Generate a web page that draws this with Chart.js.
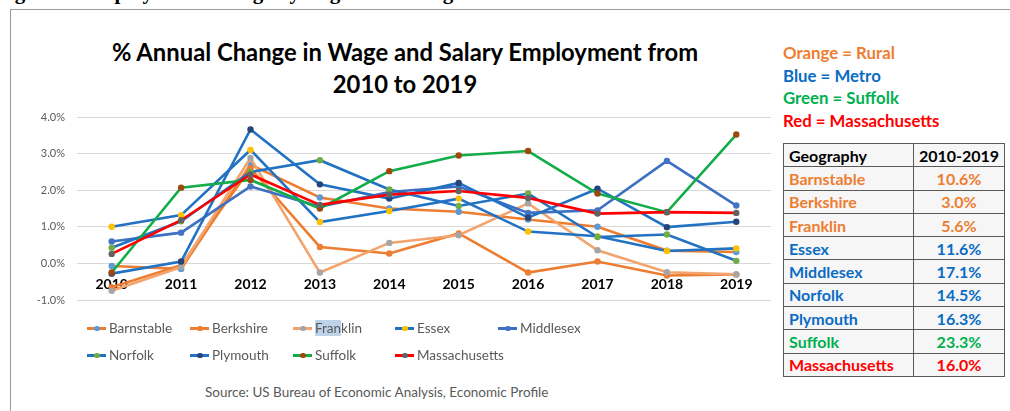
<!DOCTYPE html>
<html>
<head>
<meta charset="utf-8">
<script src="https://cdn.jsdelivr.net/npm/chart.js@4.4.1/dist/chart.umd.min.js"></script>
<style>
  html,body{margin:0;padding:0;background:#fff;}
  body{width:1010px;height:411px;position:relative;overflow:hidden;font-family:Lato,"Open Sans",sans-serif;}
  #heading{position:absolute;left:-4px;top:-18px;line-height:21px;font-family:"Liberation Serif",serif;font-weight:bold;font-size:21px;color:#000;white-space:nowrap;}
  #frame{position:absolute;left:10px;top:9px;width:1010px;height:420px;border:1.5px solid #9c9c9c;box-shadow:1px 1px 2px #ccc;box-sizing:border-box;background:#fff;}
  #title{position:absolute;left:0;width:810px;top:36px;text-align:center;font-weight:bold;font-size:23.8px;line-height:32px;color:#000;}
  #cv{position:absolute;left:0;top:0;}
  #legend{position:absolute;left:0;top:0;width:780px;height:380px;pointer-events:none;}
  .li{position:absolute;font-size:13.5px;color:#595959;white-space:nowrap;display:flex;align-items:center;height:16px;}
  .sw{position:relative;width:19px;height:16px;margin-right:3px;}
  .sw .ln{position:absolute;left:0;top:7px;width:19px;height:2.5px;}
  .sw .dt{position:absolute;left:7px;top:5.5px;width:5.5px;height:5.5px;border-radius:50%;}
  .hl{background:#bcd3ea;}
  #source{position:absolute;left:205px;top:384px;font-size:13.5px;color:#595959;white-space:nowrap;}
  #key{position:absolute;left:783px;top:42px;font-weight:bold;font-size:16.8px;line-height:22.6px;}
  table{position:absolute;left:783px;top:143px;border-collapse:collapse;font-weight:bold;font-size:16px;}
  td{border:1.5px solid #5a5a5a;height:22.3px;padding:0 0 0 5px;background:#f6f6f6;}
  td.v{text-align:center;padding:0;width:90px;}
  td.g{width:124px;}
</style>
</head>
<body>
<div id="heading">Figure 4: Employment Change by Region and Wage Level</div>
<div id="frame"></div>
<div id="title">% Annual Change in Wage and Salary Employment from<br>2010 to 2019</div>
<canvas id="cv" width="780" height="320"></canvas>
<div id="legend"></div>
<div id="source">Source: US Bureau of Economic Analysis, Economic Profile</div>
<div id="key"></div>
<table id="tbl"></table>
<script>
// ---- data ----
const years = ["2010","2011","2012","2013","2014","2015","2016","2017","2018","2019"];
const barnstable    = [-0.07,-0.15, 2.70, 1.80, 1.50, 1.41, 1.20, 1.00, 0.35, 0.31];
const berkshire     = [-0.65,-0.05, 2.60, 0.45, 0.27, 0.82,-0.25, 0.05,-0.33,-0.30];
const franklin      = [-0.75,-0.10, 2.88,-0.25, 0.56, 0.77, 1.64, 0.36,-0.24,-0.30];
const essex         = [ 1.00, 1.32, 3.10, 1.13, 1.43, 1.77, 0.87, 0.74, 0.34, 0.41];
const middlesex     = [ 0.60, 0.84, 2.10, 1.55, 1.95, 2.10, 1.38, 1.45, 2.80, 1.58];
const norfolk       = [ 0.43, 1.15, 2.50, 2.82, 2.02, 1.57, 1.91, 0.72, 0.79, 0.07];
const plymouth      = [-0.28, 0.05, 3.66, 2.16, 1.77, 2.20, 1.25, 2.04, 0.99, 1.14];
const suffolk       = [-0.25, 2.07, 2.28, 1.50, 2.52, 2.95, 3.07, 1.91, 1.40, 3.52];
const massachusetts = [ 0.26, 1.18, 2.43, 1.60, 1.88, 1.98, 1.79, 1.36, 1.40, 1.38];
const yTicks = [-1, 0, 1, 2, 3, 4];

const keyLines = [["Orange = Rural","#ED7D31"],["Blue = Metro","#0A6CC4"],["Green = Suffolk","#00B050"],["Red = Massachusetts","#FF0000"]];
const tableHead = ["Geography","2010-2019"];
const tableNames = ["Barnstable","Berkshire","Franklin","Essex","Middlesex","Norfolk","Plymouth","Suffolk","Massachusetts"];
const tableVals  = ["10.6%","3.0%","5.6%","11.6%","17.1%","14.5%","16.3%","23.3%","16.0%"];
const tableCols  = ["#ED7D31","#ED7D31","#ED7D31","#0A6CC4","#0A6CC4","#0A6CC4","#0A6CC4","#00B050","#FF0000"];

// ---- styles ----
const BLUE = "#2272C3", OR = "#ED7D31", LOR = "#F2A46C";
const series = [
  {label:"Barnstable", data:barnstable, line:OR, mk:"#5B9BD5"},
  {label:"Berkshire", data:berkshire, line:OR, mk:"#ED7D31"},
  {label:"Franklin", data:franklin, line:LOR, mk:"#A5A5A5"},
  {label:"Essex", data:essex, line:BLUE, mk:"#FFC000"},
  {label:"Middlesex", data:middlesex, line:"#3D6FC2", mk:"#4472C4"},
  {label:"Norfolk", data:norfolk, line:BLUE, mk:"#70AD47"},
  {label:"Plymouth", data:plymouth, line:BLUE, mk:"#264478"},
  {label:"Suffolk", data:suffolk, line:"#12AD48", mk:"#9E480E"},
  {label:"Massachusetts", data:massachusetts, line:"#FF0000", mk:"#636363"}
];

const datasets = series.map((s,i)=>({
  label:s.label, data:s.data, borderColor:s.line, backgroundColor:s.mk,
  pointBackgroundColor:s.mk, pointBorderColor:s.mk, pointRadius:3.2, pointBorderWidth:0,
  borderWidth:2.6, tension:0, order: series.length - i
}));

new Chart(document.getElementById('cv'), {
  type:'line',
  data:{labels:years, datasets},
  options:{
    responsive:false, animation:false, devicePixelRatio:1,
    layout:{padding:{top:117,bottom:20,left:0,right:9}},
    plugins:{legend:{display:false},tooltip:{enabled:false},title:{display:false}},
    scales:{
      y:{min:-1,max:4,
        afterFit:(s)=>{s.width=77;},
        afterBuildTicks:(s)=>{s.ticks = yTicks.map(v=>({value:v}));},
        ticks:{callback:(v)=>v.toFixed(1)+'%',color:'#595959',font:{family:'Lato',size:11},padding:12},
        grid:{color:'#d9d9d9',lineWidth:1,drawTicks:false},
        border:{display:false}},
      x:{position:{y:0}, offset:true,
        ticks:{color:'#000',font:{family:'Lato',size:14,weight:'bold'},padding:13,maxRotation:0},
        grid:{display:false,drawTicks:false},
        border:{display:false}}
    }
  }
});

// ---- legend (from datasets) ----
const leg = document.getElementById('legend');
const colX = [87,190,293,395,498];
series.forEach((s,i)=>{
  const row = i<5?0:1, col = i<5?i:i-5;
  const d = document.createElement('div');
  d.className='li';
  d.style.left = colX[col]+'px';
  d.style.top = (row===0?320:347)+'px';
  const txt = s.label==="Franklin" ? '<span class="hl">Fran</span>klin' : s.label;
  d.innerHTML = '<div class="sw"><div class="ln" style="background:'+s.line+'"></div><div class="dt" style="background:'+s.mk+'"></div></div><span>'+txt+'</span>';
  leg.appendChild(d);
});

// ---- key + table ----
document.getElementById('key').innerHTML = keyLines.map(k=>'<div style="color:'+k[1]+'">'+k[0]+'</div>').join('');
let html = '<tr><td class="g" style="color:#000">'+tableHead[0]+'</td><td class="v" style="color:#000">'+tableHead[1]+'</td></tr>';
tableNames.forEach((n,i)=>{
  html += '<tr><td class="g" style="color:'+tableCols[i]+'">'+n+'</td><td class="v" style="color:'+tableCols[i]+'">'+tableVals[i]+'</td></tr>';
});
document.getElementById('tbl').innerHTML = html;
</script>
</body>
</html>
